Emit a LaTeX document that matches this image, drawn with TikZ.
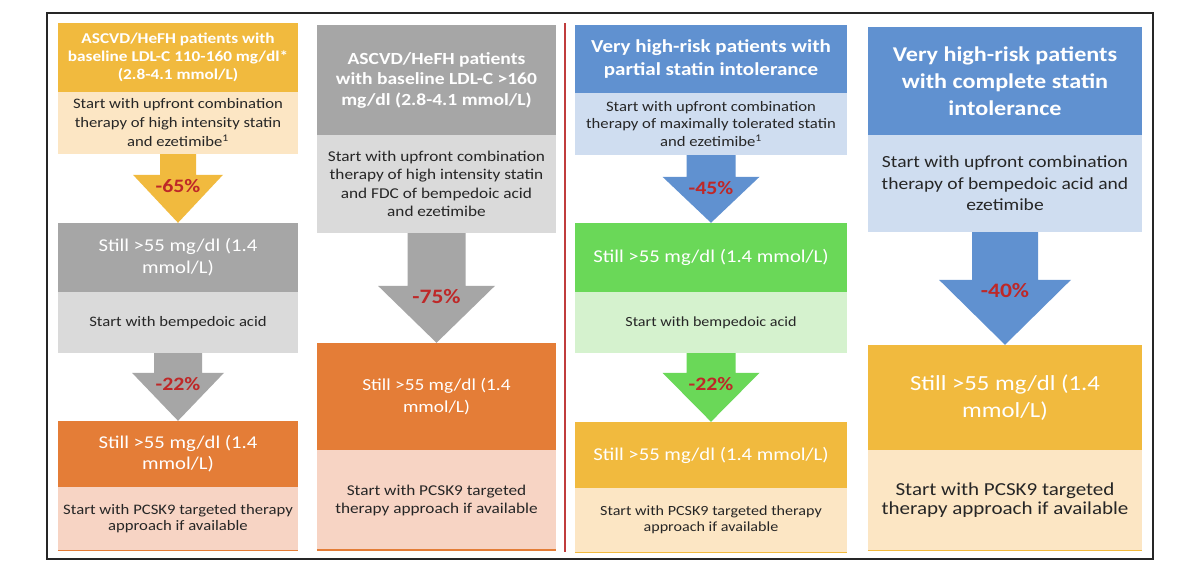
\documentclass[tikz,border=0pt]{standalone}
\usepackage{fontspec}
\setmainfont{Carlito}[FakeStretch=1.15]
\usetikzlibrary{calc}
\definecolor{yelH}{RGB}{241,186,62}
\definecolor{yelL}{RGB}{252,230,196}
\definecolor{grH}{RGB}{166,166,166}
\definecolor{grL}{RGB}{218,218,218}
\definecolor{blH}{RGB}{96,145,208}
\definecolor{blL}{RGB}{207,221,240}
\definecolor{gnH}{RGB}{106,216,88}
\definecolor{gnL}{RGB}{213,242,206}
\definecolor{orH}{RGB}{228,125,55}
\definecolor{orL}{RGB}{247,212,196}
\definecolor{pct}{RGB}{190,40,40}
\definecolor{txt}{RGB}{38,38,38}
\definecolor{sepc}{RGB}{192,60,60}
\newcommand{\fs}[2]{\fontsize{#1}{#2}\selectfont}
\newcommand{\barrow}[8]{%
  \fill[#6] ($(#1.south)+(-#3,0)$) -- ($(#2.north)+(-#3,-#5)$) -- ($(#2.north)+(-#4,-#5)$) -- (#2.north) -- ($(#2.north)+(#4,-#5)$) -- ($(#2.north)+(#3,-#5)$) -- ($(#1.south)+(#3,0)$) -- cycle;
  \node[pctl, font=\bfseries\fs{#8}{#8}] (#1-#2) at ($(#2.north)+(0,-#5+11)$) {#7};
}
\tikzset{
  box/.style={rectangle, inner sep=0pt, align=center, anchor=center},
  head/.style={box, text=white},
  body/.style={box, text=txt},
  still/.style={box, text=white},
  pctl/.style={text=pct, inner sep=0pt},
}
\begin{document}
\begin{tikzpicture}[x=1pt,y=-1pt]
\fill[white] (0,0) rectangle (1200,573);
\useasboundingbox (0,0) rectangle (1200,573);
% column 1
\node[head, fill=yelH, minimum width=240pt, minimum height=69pt, font=\bfseries\fs{15}{18}] (h1) at (178,57.5) {ASCVD/HeFH patients with\\baseline LDL-C 110-160 mg/dl*\\(2.8-4.1 mmol/L)};
\node[body, fill=yelL, minimum width=240pt, minimum height=62pt, font=\fs{14.5}{19}] (s1) at (178,123) {Start with upfront combination\\therapy of high intensity statin\\and ezetimibe\textsuperscript{1}};
\node[still, fill=grH, minimum width=240pt, minimum height=69pt, font=\fs{18}{22}] (g1) at (178,257.5) {Still >55 mg/dl (1.4\\mmol/L)};
\node[body, fill=grL, minimum width=240pt, minimum height=61pt, font=\fs{14.5}{18}] (g1s) at (178,322.5) {Start with bempedoic acid};
\node[still, fill=orH, minimum width=240pt, minimum height=66pt, font=\fs{18}{21}] (o1) at (178,454) {Still >55 mg/dl (1.4\\mmol/L)};
\node[body, fill=orL, minimum width=240pt, minimum height=63pt, font=\fs{14.5}{15.5}] (o1s) at (178,518.5) {Start with PCSK9 targeted therapy\\approach if available};
\draw[orH, line width=1.2pt] (o1s.south west) -- (o1s.south east);
\barrow{s1}{g1}{18}{45}{48}{yelH}{-65\%}{19}
\barrow{g1s}{o1}{24}{46}{48}{grH}{-22\%}{19}
% column 2
\node[head, fill=grH, minimum width=239pt, minimum height=110pt, font=\bfseries\fs{17}{20.5}] (h2) at (436.5,80) {ASCVD/HeFH patients\\with baseline LDL-C >160\\mg/dl (2.8-4.1 mmol/L)};
\node[body, fill=grL, minimum width=239pt, minimum height=98pt, font=\fs{15}{18.5}] (s2) at (436.5,184) {Start with upfront combination\\therapy of high intensity statin\\and FDC of bempedoic acid\\and ezetimibe};
\node[still, fill=orH, minimum width=239pt, minimum height=107pt, font=\fs{16.8}{22}] (o2) at (436.5,396.5) {Still >55 mg/dl (1.4\\mmol/L)};
\node[body, fill=orL, minimum width=239pt, minimum height=100pt, font=\fs{15}{18}] (o2s) at (436.5,500) {Start with PCSK9 targeted\\therapy approach if available};
\draw[orH, line width=2.5pt] (o2s.south west) -- (o2s.south east);
\barrow{s2}{o2}{29}{58.5}{57}{grH}{-75\%}{20.5}
% separator
\coordinate (sepT) at (565,23);
\coordinate (sepB) at (565,552);
\draw[sepc, line width=1.6pt] (sepT) -- (sepB);
% column 3
\node[head, fill=blH, minimum width=272pt, minimum height=68pt, font=\bfseries\fs{18.3}{23}] (h3) at (711,59) {Very high-risk patients with\\partial statin intolerance};
\node[body, fill=blL, minimum width=272pt, minimum height=62pt, font=\fs{14.5}{17.5}] (s3) at (711,124) {Start with upfront combination\\therapy of maximally tolerated statin\\and ezetimibe\textsuperscript{1}};
\node[still, fill=gnH, minimum width=272pt, minimum height=69pt, font=\fs{18}{22}] (gr3) at (711,257.5) {Still >55 mg/dl (1.4 mmol/L)};
\node[body, fill=gnL, minimum width=272pt, minimum height=61pt, font=\fs{14}{18}] (gr3s) at (711,322.5) {Start with bempedoic acid};
\node[still, fill=yelH, minimum width=272pt, minimum height=66pt, font=\fs{18}{22}] (y3) at (711,455) {Still >55 mg/dl (1.4 mmol/L)};
\node[body, fill=yelL, minimum width=272pt, minimum height=64pt, font=\fs{14}{16}] (y3s) at (711,520) {Start with PCSK9 targeted therapy\\approach if available};
\draw[yelH, line width=1.2pt] (y3s.south west) -- (y3s.south east);
\barrow{s3}{gr3}{24.5}{48.5}{46}{blH}{-45\%}{19}
\barrow{gr3s}{y3}{24.5}{48.5}{49}{gnH}{-22\%}{19}
% column 4
\node[head, fill=blH, minimum width=274pt, minimum height=108pt, font=\bfseries\fs{21}{27}] (h4) at (1005,81) {Very high-risk patients\\with complete statin\\intolerance};
\node[body, fill=blL, minimum width=274pt, minimum height=97pt, font=\fs{17}{21.5}] (s4) at (1005,183.5) {Start with upfront combination\\therapy of bempedoic acid and\\ezetimibe};
\node[still, fill=yelH, minimum width=274pt, minimum height=105pt, font=\fs{21.5}{27}] (y4) at (1005,397.5) {Still >55 mg/dl (1.4\\mmol/L)};
\node[body, fill=yelL, minimum width=274pt, minimum height=100pt, font=\fs{18.3}{19.5}] (y4s) at (1005,500) {Start with PCSK9 targeted\\therapy approach if available};
\draw[yelH, line width=1.2pt] (y4s.south west) -- (y4s.south east);
\barrow{s4}{y4}{33}{66}{65}{blH}{-40\%}{20.5}
% frame
\draw[line width=2pt, black!85] (47,13) rectangle (1153,559);
\end{tikzpicture}
\end{document}
